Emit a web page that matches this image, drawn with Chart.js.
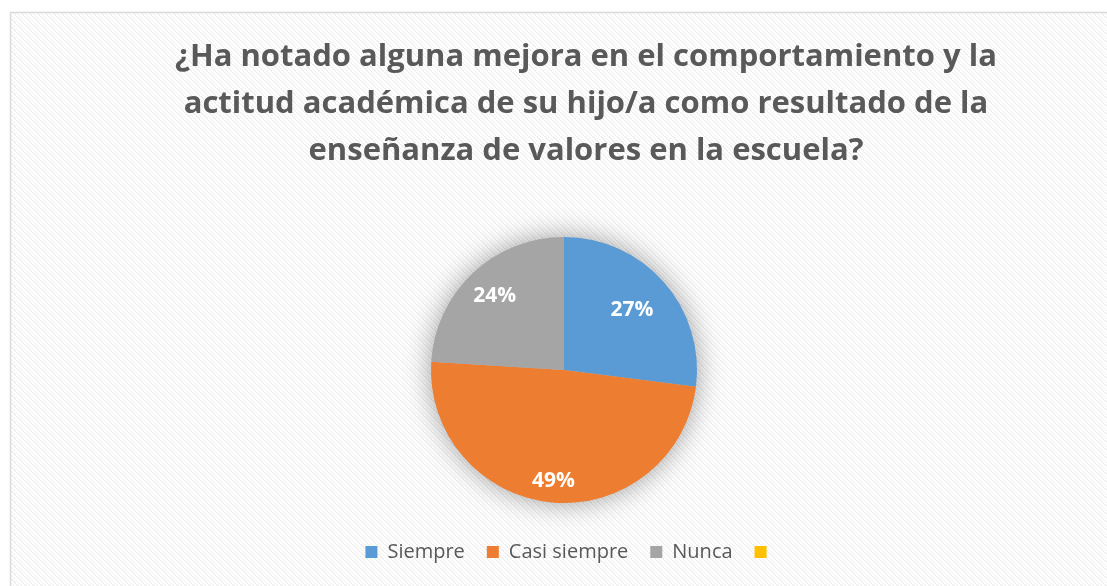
<!DOCTYPE html>
<html><head><meta charset="utf-8">
<script src="https://cdn.jsdelivr.net/npm/chart.js@4.4.0/dist/chart.umd.min.js"></script>
<style>html,body{margin:0;padding:0;background:#fff;}#wrap{width:1107px;height:586px;position:relative;}</style>
</head><body><div id="wrap"><canvas id="c" width="1107" height="586"></canvas></div>
<script>
const titleLines = ['¿Ha notado alguna mejora en el comportamiento y la', 'actitud académica de su hijo/a como resultado de la', 'enseñanza de valores en la escuela?'];
const categories = ['Siempre', 'Casi siempre', 'Nunca', ''];
const values = [27, 49, 24, 0];
const labelsText = ['27%', '49%', '24%', ''];
const colors = ['#5B9BD5', '#ED7D31', '#A5A5A5', '#FFC000'];
const labelRadiusFrac = [0.68, 0.84, 0.76, 0.8];

function makePattern(ctx){
  const p = document.createElement('canvas'); p.width = 8; p.height = 8;
  const g = p.getContext('2d');
  g.fillStyle = '#ffffff'; g.fillRect(0,0,8,8);
  g.fillStyle = '#efefef';
  for (let i=0;i<8;i++){ g.fillRect(i, i, 2, 1); g.fillRect((i+4)%8, i, 1, 1); }
  return ctx.createPattern(p, 'repeat');
}

const bgPlugin = {
  id: 'bg',
  beforeDraw(chart){
    const ctx = chart.ctx;
    ctx.save();
    ctx.fillStyle = '#fff'; ctx.fillRect(0,0,chart.width,chart.height);
    ctx.fillStyle = makePattern(ctx);
    ctx.fillRect(10,12,chart.width-10,chart.height-12);
    ctx.strokeStyle = '#d9d9d9'; ctx.lineWidth = 1.5;
    ctx.beginPath(); ctx.moveTo(10.5, chart.height); ctx.lineTo(10.5,12.5); ctx.lineTo(chart.width,12.5); ctx.stroke();
    ctx.restore();
  }
};

const shiftPlugin = {
  id: 'shift',
  afterLayout(chart){
    const t = chart.titleBlock; if (t){ t.left += 22; t.right += 22; }
    const l = chart.legend; if (l){ l.top += 17; l.bottom += 17; l.left += 7; l.right += 7; if (l.adjustHitBoxes) l.adjustHitBoxes(); }
  }
};

const shadowPlugin = {
  id: 'pieShadow',
  beforeDatasetsDraw(chart){
    const arc = chart.getDatasetMeta(0).data[0];
    if(!arc) return;
    const ctx = chart.ctx;
    ctx.save();
    ctx.shadowColor = 'rgba(0,0,0,0.4)';
    ctx.shadowBlur = 28;
    ctx.fillStyle = '#bbbbbb';
    ctx.beginPath(); ctx.arc(arc.x, arc.y, arc.outerRadius-1, 0, Math.PI*2); ctx.fill();
    ctx.restore();
  }
};

const dataLabelPlugin = {
  id: 'dl',
  afterDatasetsDraw(chart){
    const ctx = chart.ctx;
    ctx.save();
    ctx.font = 'bold 21px "Open Sans"';
    ctx.fillStyle = '#ffffff';
    ctx.textAlign = 'center'; ctx.textBaseline = 'middle';
    chart.getDatasetMeta(0).data.forEach((arc, i) => {
      if (!labelsText[i]) return;
      const mid = (arc.startAngle + arc.endAngle)/2;
      const r = arc.outerRadius * labelRadiusFrac[i];
      ctx.fillText(labelsText[i], arc.x + Math.cos(mid)*r, arc.y + Math.sin(mid)*r);
    });
    ctx.restore();
  }
};

new Chart(document.getElementById('c'), {
  type: 'pie',
  data: { labels: categories, datasets: [{ data: values, backgroundColor: colors, borderWidth: 0 }] },
  options: {
    responsive: false, animation: false,
    layout: { padding: { top: 0, left: 21, right: 0, bottom: 31 } },
    plugins: {
      tooltip: { enabled: false },
      title: { display: true, text: titleLines, color: '#595959',
        font: { family: 'Open Sans', size: 31, weight: 'bold', lineHeight: 1.53 },
        padding: { top: 33, bottom: 61.7 } },
      legend: { position: 'bottom',
        labels: { color: '#595959', font: { family: 'Open Sans', size: 20 }, boxWidth: 12, boxHeight: 12, padding: 22 } }
    }
  },
  plugins: [bgPlugin, shiftPlugin, shadowPlugin, dataLabelPlugin]
});
</script></body></html>
